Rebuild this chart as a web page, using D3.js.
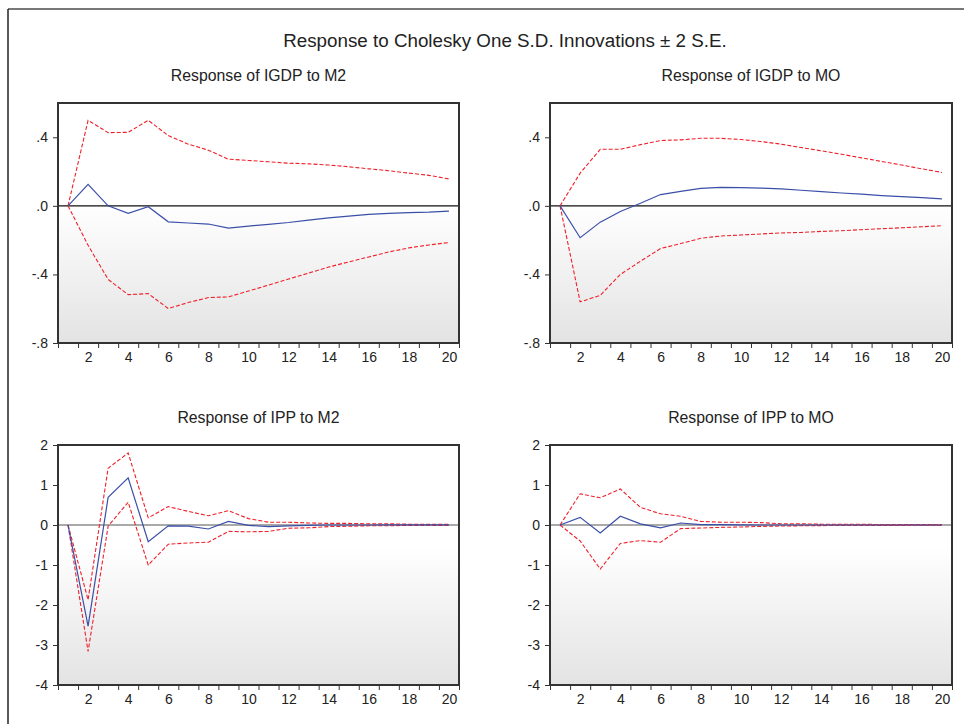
<!DOCTYPE html>
<html>
<head>
<meta charset="utf-8">
<script src="https://cdn.jsdelivr.net/npm/d3@7/dist/d3.min.js"></script>
<style>
  body { margin: 0; background: #fff; }
  svg { display: block; }
  text { font-family: "Liberation Sans", Arial, sans-serif; fill: #222; }
</style>
</head>
<body>
<svg id="chart" width="964" height="724"></svg>
<script>
// periods 1..20 and the tick labels
var periods = [1, 2, 3, 4, 5, 6, 7, 8, 9, 10, 11, 12, 13, 14, 15, 16, 17, 18, 19, 20];
var xLabels = [2, 4, 6, 8, 10, 12, 14, 16, 18, 20];

var igdpTicks = [0.4, 0, -0.4, -0.8];
var igdpTickLabels = [".4", ".0", "-.4", "-.8"];
var ippTicks = [2, 1, 0, -1, -2, -3, -4];
var ippTickLabels = ["2", "1", "0", "-1", "-2", "-3", "-4"];

// Response of IGDP to M2
var igdpM2 = [0, 0.126, 0, -0.044, -0.005, -0.093, -0.1, -0.106, -0.13, -0.118, -0.108, -0.097, -0.083, -0.07, -0.06, -0.05, -0.044, -0.04, -0.037, -0.031];
var igdpM2Up = [0, 0.499, 0.427, 0.429, 0.499, 0.41, 0.36, 0.325, 0.272, 0.265, 0.257, 0.249, 0.245, 0.238, 0.228, 0.216, 0.205, 0.191, 0.178, 0.157];
var igdpM2Lo = [0, -0.23, -0.429, -0.518, -0.512, -0.599, -0.564, -0.535, -0.531, -0.497, -0.462, -0.427, -0.392, -0.357, -0.327, -0.298, -0.269, -0.245, -0.228, -0.214];

// Response of IGDP to MO
var igdpMO = [0, -0.186, -0.095, -0.033, 0.015, 0.066, 0.085, 0.102, 0.108, 0.106, 0.104, 0.099, 0.091, 0.083, 0.075, 0.068, 0.06, 0.054, 0.048, 0.041];
var igdpMOUp = [0, 0.191, 0.33, 0.33, 0.357, 0.381, 0.385, 0.394, 0.394, 0.387, 0.375, 0.36, 0.34, 0.321, 0.301, 0.28, 0.259, 0.238, 0.216, 0.195];
var igdpMOLo = [0, -0.56, -0.522, -0.4, -0.323, -0.249, -0.22, -0.189, -0.176, -0.17, -0.164, -0.158, -0.155, -0.149, -0.145, -0.139, -0.133, -0.128, -0.122, -0.116];

// Response of IPP to M2
var ippM2 = [0, -2.53, 0.69, 1.18, -0.42, -0.02, -0.03, -0.1, 0.09, -0.01, -0.04, -0.02, -0.01, 0, 0, 0, 0.005, 0.005, 0.005, 0.005];
var ippM2Up = [0, -1.87, 1.42, 1.8, 0.18, 0.46, 0.34, 0.23, 0.36, 0.16, 0.07, 0.07, 0.05, 0.04, 0.04, 0.03, 0.03, 0.02, 0.02, 0.02];
var ippM2Lo = [0, -3.16, -0.03, 0.57, -1.0, -0.48, -0.45, -0.43, -0.16, -0.17, -0.16, -0.08, -0.07, -0.04, -0.03, -0.02, -0.02, -0.01, -0.01, -0.01];

// Response of IPP to MO
var ippMO = [0, 0.19, -0.2, 0.22, 0.03, -0.07, 0.05, 0.01, 0.01, 0.005, 0, 0, 0, 0, 0, 0, 0, 0, 0, 0];
var ippMOUp = [0, 0.78, 0.68, 0.9, 0.44, 0.28, 0.22, 0.09, 0.07, 0.07, 0.06, 0.03, 0.03, 0.02, 0.02, 0.02, 0.01, 0.01, 0.01, 0.01];
var ippMOLo = [0, -0.4, -1.1, -0.46, -0.39, -0.43, -0.09, -0.075, -0.06, -0.05, -0.035, -0.025, -0.02, -0.015, -0.01, -0.01, -0.01, -0.01, -0.005, -0.005];

var svg = d3.select("#chart");

var defs = svg.append("defs");
var grad = defs.append("linearGradient").attr("id", "bg")
  .attr("x1", 0).attr("y1", 0).attr("x2", 0).attr("y2", 1);
grad.append("stop").attr("offset", "0%").attr("stop-color", "#ffffff");
grad.append("stop").attr("offset", "42%").attr("stop-color", "#ffffff");
grad.append("stop").attr("offset", "100%").attr("stop-color", "#e3e3e3");

// outer frame bits (top + left)
svg.append("line").attr("x1", 8).attr("x2", 964).attr("y1", 9).attr("y2", 9)
  .attr("stroke", "#777").attr("stroke-width", 2);
svg.append("line").attr("x1", 8).attr("x2", 8).attr("y1", 9).attr("y2", 724)
  .attr("stroke", "#222").attr("stroke-width", 1.5);

svg.append("text")
  .attr("x", 505).attr("y", 47)
  .attr("text-anchor", "middle")
  .style("font-size", "18.8px")
  .text("Response to Cholesky One S.D. Innovations \u00b1 2 S.E.");

var panels = [
  { title: "Response of IGDP to M2", mid: igdpM2, up: igdpM2Up, lo: igdpM2Lo, domain: [-0.8, 0.6], ticks: igdpTicks, labels: igdpTickLabels, x0: 58, x1: 459, y0: 103, y1: 343, zero: "#111" },
  { title: "Response of IGDP to MO", mid: igdpMO, up: igdpMOUp, lo: igdpMOLo, domain: [-0.8, 0.6], ticks: igdpTicks, labels: igdpTickLabels, x0: 550, x1: 952, y0: 103, y1: 343, zero: "#111" },
  { title: "Response of IPP to M2", mid: ippM2, up: ippM2Up, lo: ippM2Lo, domain: [-4, 2], ticks: ippTicks, labels: ippTickLabels, x0: 58, x1: 459, y0: 445, y1: 685, zero: "#555" },
  { title: "Response of IPP to MO", mid: ippMO, up: ippMOUp, lo: ippMOLo, domain: [-4, 2], ticks: ippTicks, labels: ippTickLabels, x0: 550, x1: 952, y0: 445, y1: 685, zero: "#555" }
];

var bounds = periods.map(function(p) { return p - 0.5; }).concat([periods[periods.length - 1] + 0.5]);

panels.forEach(function(p) {
  var x = d3.scaleLinear().domain([0.5, 20.5]).range([p.x0, p.x1]);
  var y = d3.scaleLinear().domain(p.domain).range([p.y1, p.y0]);

  var g = svg.append("g");

  g.append("rect")
    .attr("x", p.x0).attr("y", p.y0)
    .attr("width", p.x1 - p.x0).attr("height", p.y1 - p.y0)
    .attr("fill", "url(#bg)");

  g.append("text")
    .attr("x", (p.x0 + p.x1) / 2).attr("y", p.y0 - 22)
    .attr("text-anchor", "middle")
    .style("font-size", "15.8px")
    .text(p.title);

  // y axis
  var yAxis = d3.axisLeft(y)
    .tickValues(p.ticks)
    .tickSize(5).tickPadding(5)
    .tickFormat(function(d, i) { return p.labels[i]; });
  var ya = g.append("g").attr("transform", "translate(" + p.x0 + ",0)").call(yAxis);
  ya.select(".domain").remove();
  ya.selectAll("line").attr("stroke", "#333");
  ya.selectAll("text").style("font-size", "14px").attr("fill", "#222");

  // x tick marks at period boundaries
  var xa = g.append("g").attr("transform", "translate(0," + p.y1 + ")")
    .call(d3.axisBottom(x).tickValues(bounds).tickSize(5).tickFormat(""));
  xa.select(".domain").remove();
  xa.selectAll("line").attr("stroke", "#333");

  // x labels at even periods
  var xl = g.append("g").attr("transform", "translate(0," + p.y1 + ")")
    .call(d3.axisBottom(x).tickValues(xLabels).tickSize(0).tickPadding(9));
  xl.select(".domain").remove();
  xl.selectAll("text").style("font-size", "14px").attr("fill", "#222");

  // zero line
  g.append("line")
    .attr("x1", p.x0).attr("x2", p.x1)
    .attr("y1", y(0)).attr("y2", y(0))
    .attr("stroke", p.zero).attr("stroke-width", 1.2);

  var line = d3.line()
    .x(function(d, i) { return x(periods[i]); })
    .y(function(d) { return y(d); });

  [p.up, p.lo].forEach(function(band) {
    g.append("path").datum(band)
      .attr("fill", "none")
      .attr("stroke", "#f0202a")
      .attr("stroke-width", 1.1)
      .attr("stroke-dasharray", "4,2")
      .attr("d", line);
  });

  g.append("path").datum(p.mid)
    .attr("fill", "none")
    .attr("stroke", "#3a4fa8")
    .attr("stroke-width", 1.2)
    .attr("d", line);

  // frame on top
  g.append("rect")
    .attr("x", p.x0).attr("y", p.y0)
    .attr("width", p.x1 - p.x0).attr("height", p.y1 - p.y0)
    .attr("fill", "none")
    .attr("stroke", "#333").attr("stroke-width", 2);
});
</script>
</body>
</html>
